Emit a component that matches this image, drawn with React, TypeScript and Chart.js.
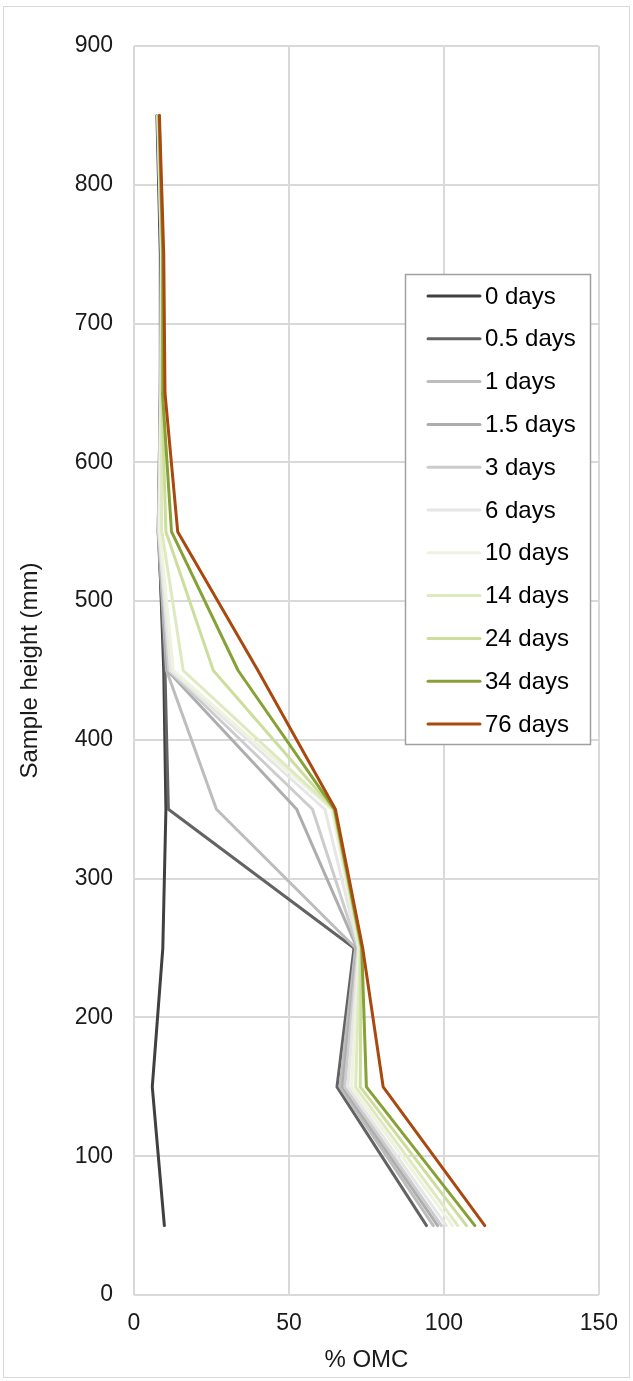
import React, { useEffect, useRef } from "react";
import { Chart, registerables } from "chart.js";

Chart.register(...registerables);

// Sample heights (mm) at which % OMC was measured
const heights = [50, 150, 250, 350, 450, 550, 650, 750, 850];

const seriesLabels = [
  "0 days",
  "0.5 days",
  "1 days",
  "1.5 days",
  "3 days",
  "6 days",
  "10 days",
  "14 days",
  "24 days",
  "34 days",
  "76 days",
];

// % OMC values, ordered bottom (50 mm) to top (850 mm)
const days0 = [9.8, 5.9, 9.3, 10.3, 9.6, 8.0, 8.5, 8.5, 7.4];
const days0_5 = [94.4, 65.5, 71.0, 11.1, 10.0, 7.8, 8.5, 8.8, 7.6];
const days1 = [96.6, 66.5, 71.5, 26.6, 10.5, 7.8, 8.5, 8.8, 7.6];
const days1_5 = [98.0, 67.3, 72.0, 52.5, 10.8, 7.8, 8.6, 8.8, 7.7];
const days3 = [99.2, 68.0, 72.2, 57.6, 11.2, 8.0, 8.6, 8.9, 7.7];
const days6 = [100.8, 69.0, 72.5, 61.6, 11.8, 8.0, 8.7, 9.0, 7.8];
const days10 = [102.8, 70.2, 72.7, 63.8, 12.7, 8.3, 8.8, 9.0, 7.8];
const days14 = [104.5, 71.5, 73.0, 64.3, 15.9, 9.0, 8.9, 9.1, 7.9];
const days24 = [107.3, 73.0, 73.3, 64.5, 25.6, 10.3, 9.0, 9.2, 8.0];
const days34 = [110.0, 75.0, 73.5, 64.7, 33.6, 12.1, 9.2, 9.3, 8.1];
const days76 = [113.2, 80.4, 73.8, 65.0, 40.0, 14.1, 10.0, 9.6, 8.2];

const seriesValues = [
  days0, days0_5, days1, days1_5, days3, days6, days10, days14, days24, days34, days76,
];

const seriesColors = [
  "#404040",
  "#636363",
  "#bdbdbd",
  "#adadad",
  "#cccccc",
  "#e6e6e6",
  "#eef3de",
  "#dfe9c0",
  "#cddd9c",
  "#86a236",
  "#a9490f",
];

const xTickValues = [0, 50, 100, 150];
const yTickValues = [0, 100, 200, 300, 400, 500, 600, 700, 800, 900];

const FONT = '"Liberation Sans", Arial, sans-serif';
const TEXT = "#1a1a1a";

const framePlugin = {
  id: "frameAndLegend",
  afterDraw(chart: any) {
    const ctx = chart.ctx as CanvasRenderingContext2D;
    ctx.save();
    // outer frame
    ctx.strokeStyle = "#d9d9d9";
    ctx.lineWidth = 1;
    ctx.strokeRect(3.5, 6.5, 626, 1371);
    // legend box
    const lx = 405, ly = 274, lw = 185, lh = 470;
    ctx.fillStyle = "#ffffff";
    ctx.fillRect(lx, ly, lw, lh);
    ctx.strokeStyle = "#a0a0a0";
    ctx.lineWidth = 1.5;
    ctx.strokeRect(lx + 0.5, ly + 0.5, lw, lh);
    ctx.font = `24px ${FONT}`;
    ctx.textBaseline = "middle";
    ctx.textAlign = "left";
    chart.data.datasets.forEach((ds: any, i: number) => {
      const y = 296 + i * 42.8;
      ctx.strokeStyle = ds.borderColor;
      ctx.lineWidth = 3;
      ctx.lineCap = "round";
      ctx.beginPath();
      ctx.moveTo(428, y);
      ctx.lineTo(480, y);
      ctx.stroke();
      ctx.fillStyle = "#000";
      ctx.fillText(ds.label, 485, y + 1);
    });
    ctx.restore();
  },
};

export default function App() {
  const canvasRef = useRef<HTMLCanvasElement | null>(null);

  useEffect(() => {
    document.body.style.margin = "0";
    const canvas = canvasRef.current;
    if (!canvas) return;
    const datasets = seriesLabels.map((label, i) => ({
      label,
      data: heights.map((h, j) => ({ x: seriesValues[i][j], y: h })),
      borderColor: seriesColors[i],
      backgroundColor: seriesColors[i],
      borderWidth: 3,
      pointRadius: 0,
      tension: 0,
      fill: false,
      borderCapStyle: "round" as const,
      borderJoinStyle: "round" as const,
      order: seriesLabels.length - i,
    }));

    const chart = new Chart(canvas, {
      type: "line",
      data: { datasets },
      options: {
        animation: false,
        responsive: false,
        devicePixelRatio: 1,
        parsing: false,
        layout: { padding: { top: 46, right: 34, left: 0, bottom: 0 } },
        plugins: {
          legend: { display: false },
          tooltip: { enabled: false },
        },
        scales: {
          x: {
            type: "linear",
            min: 0,
            max: 150,
            afterBuildTicks: (scale: any) => {
              scale.ticks = xTickValues.map((v) => ({ value: v }));
            },
            afterFit: (scale: any) => {
              scale.height = 86;
            },
            grid: { color: "#d9d9d9", lineWidth: 2, drawTicks: false },
            border: { display: false },
            ticks: {
              padding: 15,
              color: TEXT,
              font: { family: FONT, size: 23 },
            },
            title: {
              display: true,
              text: "% OMC",
              color: TEXT,
              font: { family: FONT, size: 24 },
              padding: { top: 0, bottom: 6 },
            },
          },
          y: {
            type: "linear",
            min: 0,
            max: 900,
            afterBuildTicks: (scale: any) => {
              scale.ticks = yTickValues.map((v) => ({ value: v }));
            },
            afterFit: (scale: any) => {
              scale.width = 134;
            },
            grid: { color: "#d9d9d9", lineWidth: 2, drawTicks: false },
            border: { display: false },
            ticks: {
              padding: 21,
              color: TEXT,
              font: { family: FONT, size: 23 },
            },
            title: {
              display: true,
              text: "Sample height (mm)",
              color: TEXT,
              font: { family: FONT, size: 24 },
              padding: { top: 16, bottom: 0 },
            },
          },
        },
      },
      plugins: [framePlugin],
    });
    return () => chart.destroy();
  }, []);

  return (
    <div style={{ width: 633, height: 1381, background: "#fff" }}>
      <canvas ref={canvasRef} width={633} height={1381} style={{ display: "block", width: 633, height: 1381 }} />
    </div>
  );
}
